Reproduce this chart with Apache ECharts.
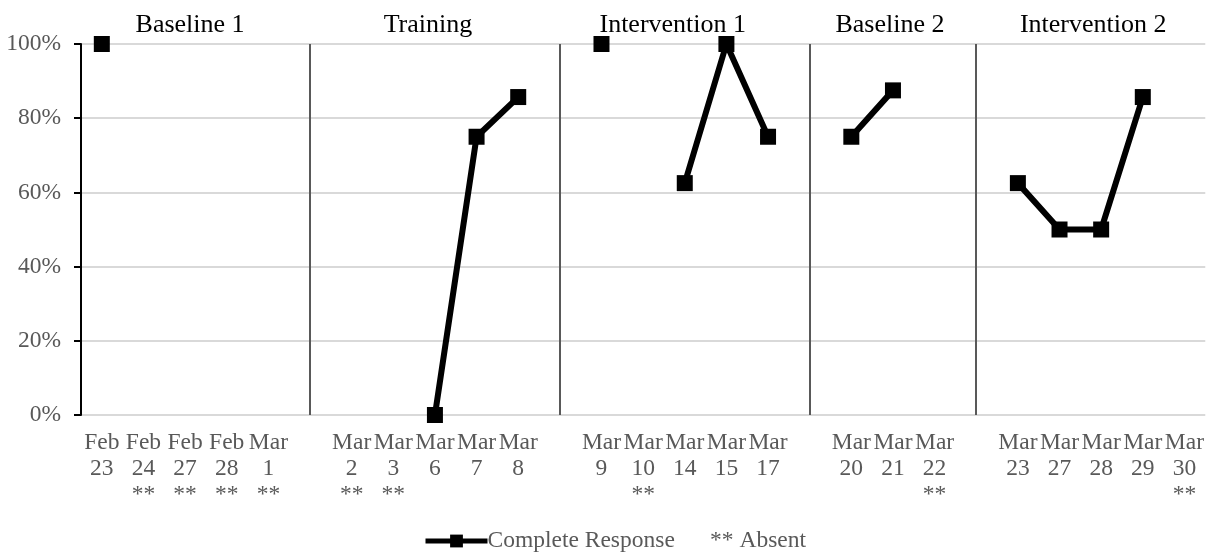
<!DOCTYPE html>
<html>
<head>
<meta charset="utf-8">
<style>
  html, body { margin: 0; padding: 0; background: #fff; }
  #chart { width: 1207px; height: 557px; }
</style>
<script src="https://cdn.jsdelivr.net/npm/echarts@6/dist/echarts.min.js"></script>
</head>
<body>
<div id="chart"></div>
<script>
// session dates, '' = gap between phases
var months = ['Feb','Feb','Feb','Feb','Mar','', 'Mar','Mar','Mar','Mar','Mar','', 'Mar','Mar','Mar','Mar','Mar','', 'Mar','Mar','Mar','', 'Mar','Mar','Mar','Mar','Mar'];
var days   = ['23','24','27','28','1','', '2','3','6','7','8','', '9','10','14','15','17','', '20','21','22','', '23','27','28','29','30'];
var absent = [0,1,1,1,1,0, 1,1,0,0,0,0, 0,1,0,0,0,0, 0,0,1,0, 0,0,0,0,1];
// % complete response (null = absent / gap)
var completeResponse = [100,null,null,null,null,null, null,null,0,75,85.7,null, 100,null,62.5,100,75,null, 75,87.5,null,null, 62.5,50,50,85.7,null];
var phaseNames = ['Baseline 1','Training','Intervention 1','Baseline 2','Intervention 2'];
var phaseStart = [0,6,12,18,22];
var phaseEnd   = [4,10,16,20,26];
var phaseBreaks = [5,11,17,21];
var seriesName = 'Complete Response';
var absentNote = '** Absent';

var font = '"Liberation Serif", "Times New Roman", serif';
var grey = '#595959';

var categories = months.map(function (m, i) {
    if (!m) return '';
    return m + '\n' + days[i] + (absent[i] ? '\n**' : '');
});

var myChart = echarts.init(document.getElementById('chart'));

var option = {
    backgroundColor: '#fff',
    animation: false,
    grid: { left: 81, right: 1, top: 44, bottom: 142 },
    legend: {
        top: 524,
        left: 418,
        data: [seriesName],
        itemWidth: 62,
        itemHeight: 16,
        itemGap: 0,
        lineStyle: { width: 5, color: '#000' },
        formatter: function (name) { return name + '      ' + absentNote; },
        textStyle: { fontFamily: font, fontSize: 23.5, color: grey, padding: [0, 0, 0, -5] }
    },
    xAxis: {
        type: 'category',
        data: categories,
        boundaryGap: true,
        axisLine: { show: false },
        axisTick: { show: false },
        axisLabel: {
            interval: 0,
            margin: 15,
            color: grey,
            fontFamily: font,
            fontSize: 23.5,
            lineHeight: 26,
            verticalAlign: 'top'
        }
    },
    yAxis: {
        type: 'value',
        min: 0,
        max: 100,
        interval: 20,
        axisLine: { show: true, lineStyle: { color: '#000', width: 2 } },
        axisTick: { show: true, length: 7, lineStyle: { color: '#000', width: 2 } },
        axisLabel: {
            margin: 20,
            color: grey,
            fontFamily: font,
            fontSize: 23.5,
            formatter: '{value}%'
        },
        splitLine: { lineStyle: { color: '#d9d9d9', width: 2 } }
    },
    series: [{
        name: seriesName,
        type: 'line',
        data: completeResponse,
        connectNulls: false,
        symbol: 'rect',
        symbolSize: 16,
        color: '#000',
        lineStyle: { color: '#000', width: 6 },
        itemStyle: { color: '#000' },
        markLine: {
            silent: true,
            symbol: 'none',
            label: { show: false },
            lineStyle: { color: grey, width: 2, type: 'solid' },
            data: phaseBreaks.map(function (i) { return { xAxis: i }; })
        }
    }]
};

myChart.setOption(option);

// phase titles over each phase
var titleNudge = [5, -7, -12, -3, -8];
var graphics = phaseNames.map(function (name, k) {
    var x0 = myChart.convertToPixel({ xAxisIndex: 0 }, phaseStart[k]);
    var x1 = myChart.convertToPixel({ xAxisIndex: 0 }, phaseEnd[k]);
    return {
        type: 'text',
        x: (x0 + x1) / 2 + titleNudge[k],
        y: 25,
        style: {
            text: name,
            fill: '#000',
            font: '26px ' + font,
            align: 'center',
            verticalAlign: 'middle'
        }
    };
});
myChart.setOption({ graphic: graphics });
</script>
</body>
</html>
